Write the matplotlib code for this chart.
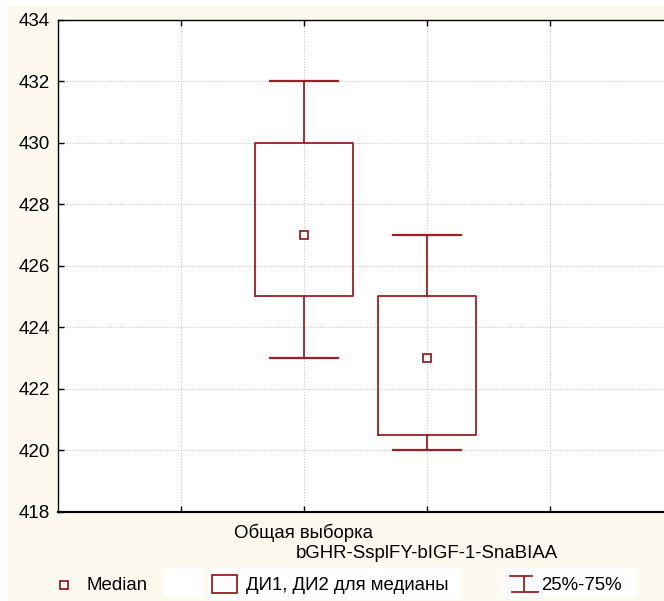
import matplotlib.pyplot as plt
import matplotlib.patches as mpatches
from matplotlib.lines import Line2D

# data
positions = [2, 3]
medians   = [427, 423]
ci_low    = [425, 420.5]
ci_high   = [430, 425]
q25       = [423, 420]
q75       = [432, 427]
yticks    = [418, 420, 422, 424, 426, 428, 430, 432, 434]
label_1   = "Общая выборка"
label_2   = "bGHR-SsplFY-bIGF-1-SnaBIAA"

RED   = "#9E1F24"
CREAM = "#FEF9EE"
FS    = 13.4

plt.rcParams['font.family'] = ['Liberation Sans', 'DejaVu Sans']

fig = plt.figure(figsize=(6.64, 6.01), dpi=100, facecolor="white")
W, H = 664, 601

def fx(px):
    return px / W

def fy(py):
    return 1 - py / H

def white_box(x0, y0, x1, y1):
    fig.add_artist(mpatches.Rectangle((fx(x0), fy(y1)), fx(x1 - x0), fy(y0) - fy(y1),
                                      transform=fig.transFigure, facecolor="white",
                                      edgecolor="none", zorder=-5))

# cream background behind everything
fig.add_artist(mpatches.Rectangle((fx(8), 0), 1, fy(6), transform=fig.transFigure,
                                  facecolor=CREAM, edgecolor="none", zorder=-10))
# white patches behind legend
white_box(164, 568, 203, 597)
white_box(208, 568, 460, 600)
white_box(503, 568, 637, 597)

ax = fig.add_axes([fx(58), fy(511.7), 1 - fx(58), fy(19.5) - fy(511.7)])
ax.set_facecolor("white")

stats = []
for i in range(len(positions)):
    stats.append(dict(med=medians[i], q1=ci_low[i], q3=ci_high[i],
                      whislo=q25[i], whishi=q75[i], fliers=[]))

ax.bxp(stats, positions=positions, widths=0.8, capwidths=0.56, showfliers=False,
       boxprops=dict(color=RED, linewidth=1.3),
       whiskerprops=dict(color=RED, linewidth=1.3),
       capprops=dict(color=RED, linewidth=1.6),
       medianprops=dict(visible=False), zorder=3)
ax.plot(positions, medians, linestyle="none", marker="s", markersize=6.3,
        markerfacecolor="white", markeredgecolor=RED, markeredgewidth=1.3, zorder=4)

ax.set_xlim(0, (664 - 58) / 123)
ax.set_ylim(418, 434)
ax.set_yticks(yticks)
ax.set_xticks([1, 2, 3, 4])
ax.set_xticklabels([])
ax.grid(True, linestyle=(0, (1, 1.5)), color="#c8c8c8", linewidth=0.8, zorder=0)
ax.tick_params(axis="both", direction="in", length=4, width=1, color="black",
               labelsize=13.5, pad=6, top=True, right=False)
for side in ["left", "top"]:
    ax.spines[side].set_linewidth(1.0)
ax.spines["bottom"].set_linewidth(1.5)
ax.spines["right"].set_visible(False)

# category labels
fig.text(fx(234), fy(532.5), label_1, fontsize=FS, ha="left", va="center")
fig.text(fx(427), fy(554), label_2, fontsize=FS, ha="center", va="center")

# legend
ly = fy(585.5)
fig.add_artist(Line2D([fx(64)], [fy(585)], marker="s", markersize=5.5, markerfacecolor="white",
                      markeredgecolor=RED, markeredgewidth=1.3, linestyle="none",
                      transform=fig.transFigure))
fig.text(fx(87), ly, "Median", fontsize=FS, ha="left", va="center")
fig.add_artist(mpatches.Rectangle((fx(212), fy(593)), fx(25), fy(575) - fy(593),
                                  transform=fig.transFigure, facecolor="white",
                                  edgecolor=RED, linewidth=1.3))
fig.text(fx(246), ly, "ДИ1, ДИ2 для медианы", fontsize=FS, ha="left", va="center")
fig.add_artist(Line2D([fx(510), fx(532)], [fy(576), fy(576)], color=RED, linewidth=1.3,
                      transform=fig.transFigure))
fig.add_artist(Line2D([fx(512), fx(538)], [fy(592), fy(592)], color=RED, linewidth=1.3,
                      transform=fig.transFigure))
fig.add_artist(Line2D([fx(524), fx(524)], [fy(592), fy(576)], color=RED, linewidth=1.3,
                      transform=fig.transFigure))
fig.text(fx(541), ly, "25%-75%", fontsize=FS, ha="left", va="center")

fig.savefig("out.png", dpi=100, facecolor=fig.get_facecolor())
